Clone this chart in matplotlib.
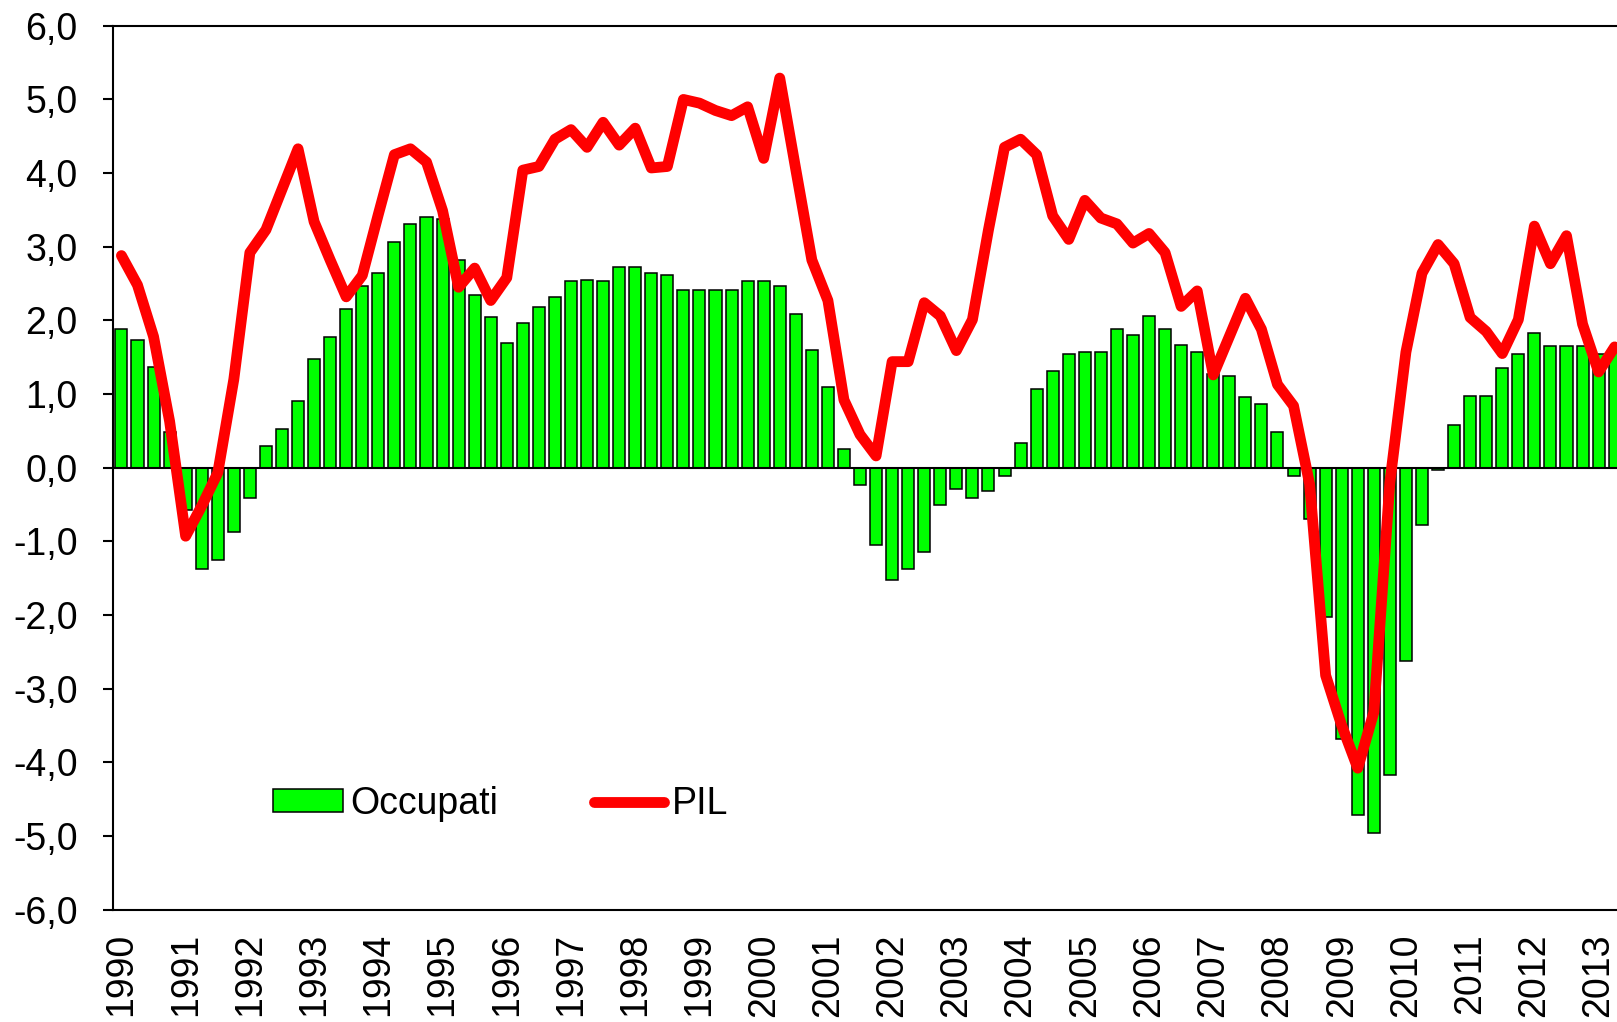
import matplotlib
matplotlib.use("Agg")
import matplotlib.pyplot as plt
import numpy as np

plt.rcParams['font.family'] = ['Liberation Sans', 'DejaVu Sans']

years = list(range(1990, 2014))

occupati = [1.89, 1.74, 1.37, 0.49, -0.58, -1.37, -1.25, -0.87, -0.41, 0.29,
            0.52, 0.90, 1.48, 1.78, 2.15, 2.47, 2.65, 3.06, 3.31, 3.40,
            3.37, 2.82, 2.35, 2.04, 1.69, 1.97, 2.18, 2.32, 2.53, 2.55,
            2.53, 2.73, 2.73, 2.65, 2.61, 2.41, 2.41, 2.41, 2.41, 2.53,
            2.53, 2.47, 2.09, 1.60, 1.10, 0.26, -0.24, -1.05, -1.52, -1.37,
            -1.14, -0.50, -0.29, -0.41, -0.32, -0.11, 0.34, 1.07, 1.31, 1.54,
            1.57, 1.57, 1.89, 1.80, 2.06, 1.89, 1.66, 1.57, 1.27, 1.24,
            0.96, 0.87, 0.49, -0.11, -0.70, -2.03, -3.68, -4.72, -4.96, -4.17,
            -2.63, -0.78, -0.03, 0.58, 0.98, 0.98, 1.36, 1.54, 1.83, 1.65,
            1.65, 1.65, 1.54, 1.62]

pil = [2.88, 2.48, 1.78, 0.63, -0.93, -0.52, -0.07, 1.20, 2.92, 3.23,
       3.78, 4.33, 3.34, 2.82, 2.32, 2.61, 3.44, 4.25, 4.33, 4.15,
       3.49, 2.45, 2.71, 2.27, 2.58, 4.04, 4.09, 4.46, 4.59, 4.35,
       4.69, 4.38, 4.61, 4.07, 4.09, 5.00, 4.95, 4.85, 4.78, 4.90,
       4.20, 5.29, 4.05, 2.82, 2.27, 0.92, 0.45, 0.16, 1.44, 1.44,
       2.24, 2.06, 1.59, 2.01, 3.23, 4.35, 4.46, 4.25, 3.42, 3.10,
       3.63, 3.39, 3.31, 3.05, 3.18, 2.92, 2.19, 2.40, 1.26, 1.78,
       2.30, 1.88, 1.13, 0.84, -0.22, -2.82, -3.50, -4.08, -3.32, -0.20,
       1.57, 2.64, 3.03, 2.77, 2.04, 1.85, 1.55, 2.01, 3.28, 2.77,
       3.15, 1.95, 1.30, 1.64]

y_ticks = [-6, -5, -4, -3, -2, -1, 0, 1, 2, 3, 4, 5, 6]

W, H = 1617, 1022
fig = plt.figure(figsize=(W / 100, H / 100), dpi=100)
ax = fig.add_axes([113.4 / W, 1 - 909.6 / H, 1541.4 / W, (909.6 - 25.8) / H])

x = np.arange(len(occupati))
bars = ax.bar(x, occupati, width=0.75, color='#00FF00', edgecolor='black',
              linewidth=1.1, zorder=2, label='Occupati')
ax.axhline(0, color='black', linewidth=1.5, zorder=2.5)
line, = ax.plot(np.arange(len(pil)), pil, color='#FF0000', linewidth=7.8,
                solid_joinstyle='round', solid_capstyle='round', zorder=4,
                label='PIL')

ax.set_xlim(-0.5, 95.5)
ax.set_ylim(-6, 6)
ax.set_yticks(y_ticks)
ax.set_yticklabels([f"{v:.1f}".replace('.', ',') for v in y_ticks])
ax.set_xticks([4 * i for i in range(len(years))])
ax.set_xticklabels([str(yv) for yv in years], rotation=90)

ax.tick_params(axis='y', direction='out', length=7.2, width=1.5, pad=18.5,
               labelsize=27)
ax.tick_params(axis='x', length=0, pad=17, labelsize=27)

for side in ['left', 'top', 'bottom']:
    ax.spines[side].set_linewidth(1.5)
    ax.spines[side].set_color('black')
ax.spines['right'].set_visible(False)

fig.legend(handles=[bars, line], labels=['Occupati', 'PIL'],
           loc='center left', bbox_to_anchor=(272.7 / W, 1 - 804 / H),
           ncol=2, frameon=False, fontsize=27, borderpad=0, borderaxespad=0,
           handlelength=1.87, handleheight=0.55, handletextpad=0.2,
           columnspacing=2.55)

fig.savefig('out.png', dpi=100)
